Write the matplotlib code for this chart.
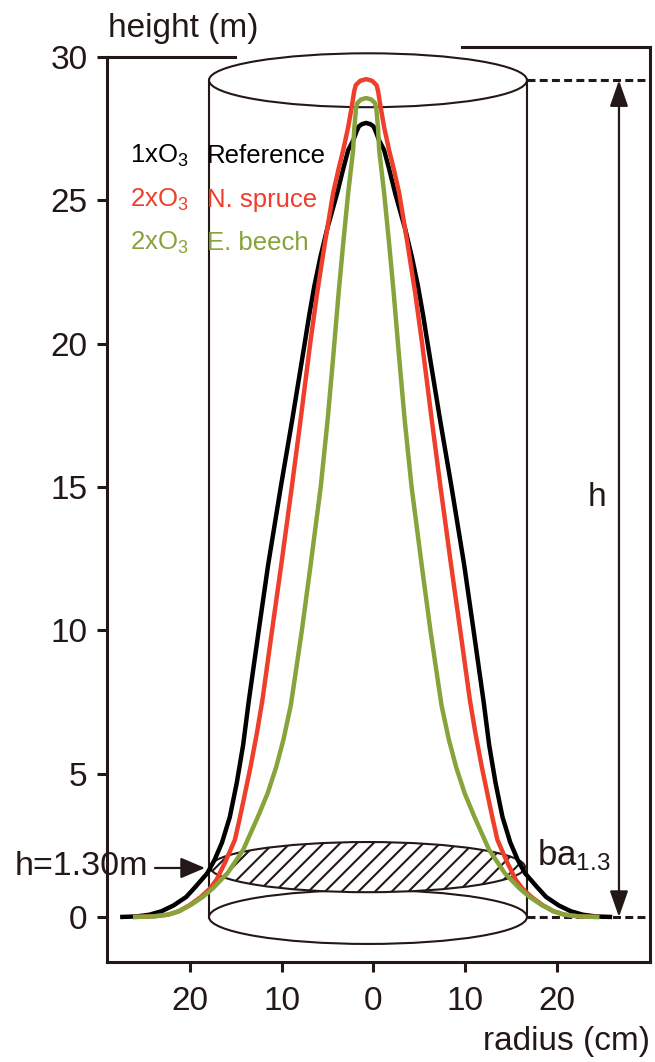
import numpy as np
import matplotlib
matplotlib.use("Agg")
import matplotlib.pyplot as plt
from matplotlib.patches import Ellipse, FancyArrowPatch
from matplotlib import font_manager

# ---------------- data ----------------
# stem profiles: height (m) vs radius (cm)
ref_h = [0.0, 0.02, 0.08, 0.2, 0.4, 0.7, 1.05, 1.53, 2.0, 2.6, 3.49, 4.67, 6.0, 7.5,
         10.0, 12.28, 15.0, 17.33, 20.0, 21.0, 22.0, 23.0, 24.0, 25.25, 26.1, 26.75,
         27.1, 27.4, 27.58, 27.66, 27.7]
ref_r = [26.8, 25.0, 23.6, 22.3, 21.0, 19.6, 18.6, 17.3, 16.5, 15.7, 14.85, 14.1, 13.4, 12.8,
         11.7, 10.68, 9.3, 8.06, 6.7, 6.2, 5.65, 5.0, 4.25, 3.16, 2.5, 1.96,
         1.4, 1.05, 0.8, 0.45, 0.0]

spruce_h = [0.0, 0.02, 0.08, 0.2, 0.42, 0.7, 1.0, 1.3, 1.88, 2.69, 3.4, 4.08, 5.23, 6.42,
            7.57, 10.0, 12.28, 15.0, 17.33, 20.0, 21.77, 23.5, 25.25, 26.1, 26.75, 27.55,
            28.3, 28.81, 29.02, 29.17, 29.23]
spruce_r = [25.4, 23.2, 21.6, 20.4, 19.2, 18.0, 17.0, 16.3, 15.4, 14.3, 13.8, 13.35, 12.6, 11.9,
            11.3, 10.25, 9.25, 8.1, 7.15, 6.1, 5.34, 4.5, 3.6, 3.0, 2.5, 1.96,
            1.55, 1.3, 1.13, 0.65, 0.0]

beech_h = [0.0, 0.02, 0.08, 0.2, 0.42, 0.7, 1.0, 1.53, 2.34, 3.49, 4.3, 5.23, 6.2, 7.4,
           10.0, 12.28, 15.0, 17.33, 19.5, 21.77, 23.5, 25.25, 26.75, 27.5, 28.22, 28.4,
           28.52, 28.57]
beech_r = [25.4, 23.2, 21.6, 20.4, 19.1, 17.8, 16.7, 15.1, 13.4, 11.8, 10.75, 9.8, 9.0, 8.2,
           7.0, 6.05, 4.95, 4.2, 3.6, 3.0, 2.5, 1.96, 1.42, 1.3, 1.1, 0.95,
           0.55, 0.0]

stem_center = -0.8          # cm, axis of the stems
cyl_center = -0.6           # cm
cyl_radius = 17.32          # cm
cyl_top = 29.19             # m
cyl_ell_h = 1.88            # m (apparent ellipse height)
ba_height = 1.74            # m
ba_radius = 17.15
ba_ell_h = 1.75

y_ticks = [0, 5, 10, 15, 20, 25, 30]
x_ticks = [-20, -10, 0, 10, 20]
x_tick_labels = ["20", "10", "0", "10", "20"]

legend_o3 = ["1xO$_\\mathregular{3}$", "2xO$_\\mathregular{3}$", "2xO$_\\mathregular{3}$"]
legend_names = ["Reference", "N. spruce", "E. beech"]

DARK = "#231815"
RED = "#ef3e2a"
GREEN = "#87a33b"
BLACK = "#000000"
colors = [BLACK, RED, GREEN]

# ---------------- fonts ----------------
names = {f.name for f in font_manager.fontManager.ttflist}
FONT = "Liberation Sans" if "Liberation Sans" in names else "DejaVu Sans"
if "Liberation Sans Narrow" in names:
    TICKFONT, TICKSIZE = "Liberation Sans Narrow", 28
else:
    TICKFONT, TICKSIZE = FONT, 24
plt.rcParams["font.family"] = [FONT, "DejaVu Sans"]
plt.rcParams["mathtext.fontset"] = "custom"
plt.rcParams["mathtext.rm"] = FONT
plt.rcParams["mathtext.it"] = FONT + ":italic"
plt.rcParams["mathtext.bf"] = FONT + ":bold"
plt.rcParams["hatch.color"] = DARK
plt.rcParams["hatch.linewidth"] = 1.5

# ---------------- figure ----------------
W, H = 655, 1062
fig = plt.figure(figsize=(W / 100, H / 100), dpi=100)
ax = fig.add_axes([107 / W, 100 / H, 543 / W, 915 / H])
xmin, xmax = -29.03, 30.12
ymin, ymax = -1.57, 30.35
ax.set_xlim(xmin, xmax)
ax.set_ylim(ymin, ymax)

for s in ax.spines.values():
    s.set_color(DARK)
    s.set_linewidth(2.2)
ax.spines["left"].set_bounds(ymin, 30.0)
ax.spines["top"].set_bounds(9.64, xmax)
ax.plot([xmin, -15.09], [30.0, 30.0], color=DARK, lw=2.2, clip_on=False,
        solid_capstyle="projecting", zorder=3)

ax.set_yticks(y_ticks)
ax.set_xticks(x_ticks)
ax.set_xticklabels(x_tick_labels)
ax.tick_params(direction="out", length=7, width=2.2, color=DARK,
               labelsize=TICKSIZE, labelcolor=DARK, top=False, right=False)
ax.tick_params(axis="x", pad=10)
ax.tick_params(axis="y", pad=7)
for lab in ax.get_xticklabels() + ax.get_yticklabels():
    lab.set_fontfamily(TICKFONT)

# ---------------- cylinder ----------------
lw_c = 1.5
ax.add_patch(Ellipse((cyl_center, cyl_top), 2 * cyl_radius, cyl_ell_h,
                     fill=False, ec=DARK, lw=lw_c, zorder=1))
ax.add_patch(Ellipse((cyl_center, 0.0), 2 * cyl_radius, cyl_ell_h,
                     fill=False, ec=DARK, lw=lw_c, zorder=1))
for sx in (-1, 1):
    ax.plot([cyl_center + sx * cyl_radius] * 2, [0.0, cyl_top], color=DARK, lw=lw_c, zorder=1)
ax.add_patch(Ellipse((cyl_center - 0.05, ba_height), 2 * ba_radius, ba_ell_h,
                     fc="white", ec=DARK, lw=lw_c, hatch="//", zorder=2))

# dashed reference lines and height arrow
xr = cyl_center + cyl_radius
for yy in (cyl_top, 0.0):
    ax.plot([xr, xmax], [yy, yy], color=DARK, lw=2.2, ls=(0, (2.6, 1.4)), zorder=2,
            clip_on=False)
ax.add_patch(FancyArrowPatch((26.74, 0.0), (26.74, cyl_top),
                             arrowstyle="<|-|>,head_length=0.8,head_width=0.28",
                             mutation_scale=20, color=DARK, lw=1.6,
                             shrinkA=0, shrinkB=0, zorder=3))

# ---------------- stem profiles ----------------
for hh, rr, col, z in [(ref_h, ref_r, BLACK, 4), (spruce_h, spruce_r, RED, 5),
                       (beech_h, beech_r, GREEN, 6)]:
    hh = np.asarray(hh)
    rr = np.asarray(rr)
    xs = np.concatenate([stem_center - rr, (stem_center + rr)[::-1]])
    ys = np.concatenate([hh, hh[::-1]])
    ax.plot(xs, ys, color=col, lw=3.2, solid_joinstyle="round",
            solid_capstyle="butt", zorder=z)

# ---------------- texts ----------------
ax.text(xmin + 0.1, 30.69, "height (m)", fontsize=24, color=DARK,
        ha="left", va="baseline", clip_on=False)
ax.text(xmax, -4.64, "radius (cm)", fontsize=24, color=DARK,
        ha="right", va="baseline", clip_on=False)
ax.text(24.35, 14.65, "h", fontsize=24, color=DARK, ha="center", va="center")
ax.text(17.8, 1.81, "ba$_\\mathregular{1.3}$", fontsize=25, color=DARK,
        ha="left", va="baseline")
ax.text(-39.05, 1.46, "h=1.30m", fontsize=24.5, color=DARK, ha="left",
        va="baseline", clip_on=False)
ax.add_patch(FancyArrowPatch((-23.8, 1.71), (-18.35, 1.71),
                             arrowstyle="-|>,head_length=0.75,head_width=0.32",
                             mutation_scale=20, color=DARK, lw=1.6,
                             shrinkA=0, shrinkB=0, zorder=3, clip_on=False))

leg_y = [26.3, 24.77, 23.26]
for o3, nm, col, yy in zip(legend_o3, legend_names, colors, leg_y):
    ax.text(-26.5, yy, o3, fontsize=18.5, color=col, ha="left", va="baseline")
    ax.text(-18.1, yy, nm, fontsize=18.5, color=col, ha="left", va="baseline")

fig.savefig("out.png", dpi=100)
